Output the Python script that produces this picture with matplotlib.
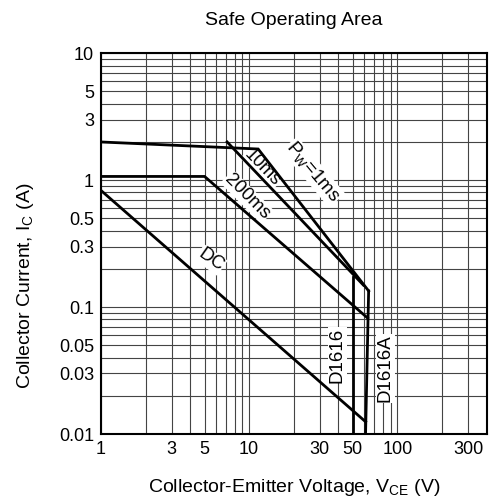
import matplotlib
matplotlib.use("Agg")
import matplotlib.pyplot as plt
from matplotlib.ticker import FixedLocator, NullFormatter

plt.rcParams['font.family'] = ['Liberation Sans', 'DejaVu Sans']
plt.rcParams['mathtext.default'] = 'regular'

# SOA boundaries (V_CE in volts, I_C in amps)
pw1ms_v = [1, 11.5, 64]
pw1ms_i = [2.0, 1.76, 0.134]
pw10ms_v = [7.1, 59]
pw10ms_i = [2.0, 0.149]
pw200ms_v = [1, 5.0, 63]
pw200ms_i = [1.07, 1.07, 0.082]
dc_v = [1, 61]
dc_i = [0.83, 0.0125]
d1616_v = [50, 50]
d1616_i = [0.172, 0.01]
d1616a_v = [64, 61]
d1616a_i = [0.134, 0.01]

x_ticks = [1, 3, 5, 10, 30, 50, 100, 300]
x_labels = ['1', '3', '5', '10', '30', '50', '100', '300']
y_ticks = [0.01, 0.03, 0.05, 0.1, 0.3, 0.5, 1, 3, 5, 10]
y_labels = ['0.01', '0.03', '0.05', '0.1', '0.3', '0.5', '1', '3', '5', '10']

fig = plt.figure(figsize=(4.95, 5.01), dpi=100)
ax = fig.add_axes([0.204, 0.1337, 0.779, 0.76])
ax.set_xscale('log')
ax.set_yscale('log')
ax.set_xlim(1, 400)
ax.set_ylim(0.01, 10)

# grid lines at every 1..9 step per decade
minor_x = [m * 10 ** d for d in range(0, 3) for m in range(1, 10) if m * 10 ** d <= 400]
minor_y = [m * 10 ** d for d in range(-2, 1) for m in range(1, 10)] + [10]
ax.xaxis.set_major_locator(FixedLocator(x_ticks))
ax.xaxis.set_minor_locator(FixedLocator(minor_x))
ax.yaxis.set_major_locator(FixedLocator(y_ticks))
ax.yaxis.set_minor_locator(FixedLocator(minor_y))
ax.set_xticklabels(x_labels)
ax.set_yticklabels(y_labels)
ax.xaxis.set_minor_formatter(NullFormatter())
ax.yaxis.set_minor_formatter(NullFormatter())
ax.grid(which='minor', color='#444444', lw=0.8)
ax.grid(which='major', color='#444444', lw=0.8)
ax.tick_params(which='both', length=0, labelsize=13, pad=5)
for s in ax.spines.values():
    s.set_linewidth(1.5)

kw = dict(color='black', lw=2.0, solid_joinstyle='miter', zorder=4)
ax.plot(pw1ms_v, pw1ms_i, **kw)
ax.plot(pw10ms_v, pw10ms_i, **kw)
ax.plot(pw200ms_v, pw200ms_i, **kw)
ax.plot(dc_v, dc_i, **kw)
ax.plot(d1616_v, d1616_i, **kw)
ax.plot(d1616a_v, d1616a_i, **kw)

# labels sit on a white patch that hides the grid but not the curves
box = dict(facecolor='white', edgecolor='none', pad=0.5)
tkw = dict(fontsize=13.5, ha='center', va='center', bbox=box, zorder=3)
ax.text(12.3, 1.25, '10ms', rotation=-46, **dict(tkw, fontsize=13))
ax.text(9.7, 0.74, '200ms', rotation=-45, **tkw)
ax.text(27, 1.16, 'P$_W$=1ms', rotation=-50, **tkw)
ax.text(5.5, 0.235, 'DC', rotation=-35, **tkw)
ax.text(39.3, 0.042, 'D1616', rotation=90, **tkw)
ax.text(83, 0.033, 'D1616A', rotation=90, **tkw)

fig.text(0.593, 0.96, 'Safe Operating Area', fontsize=14, ha='center', va='center')
ax.set_xlabel('Collector-Emitter Voltage, V$_{CE}$ (V)', fontsize=14, labelpad=14)
ax.set_ylabel('Collector Current, I$_C$ (A)', fontsize=14)
ax.yaxis.set_label_coords(-0.168, 0.39)

fig.savefig('out.png', dpi=100)
